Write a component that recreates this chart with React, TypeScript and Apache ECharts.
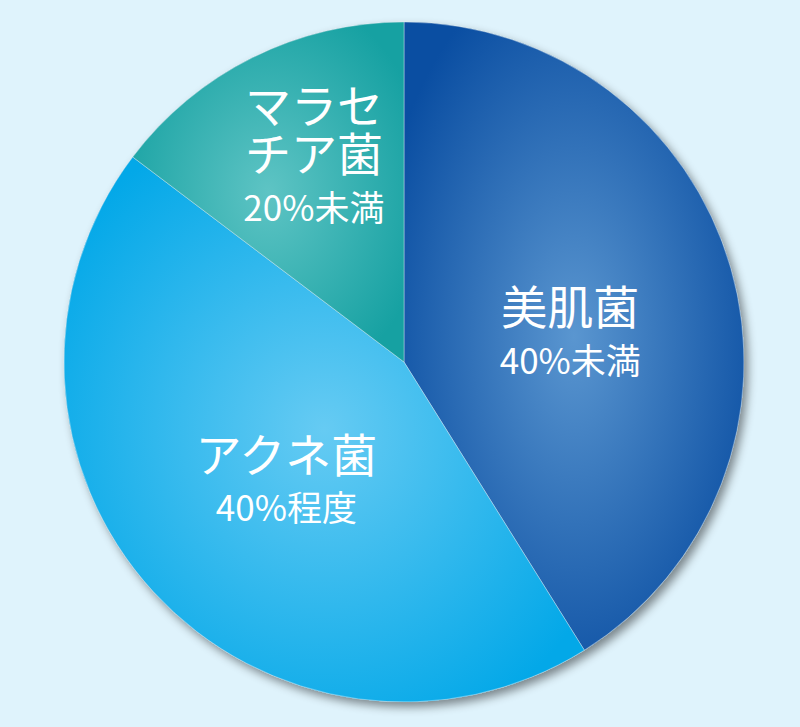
import React, { useEffect, useRef } from 'react';
import * as echarts from 'echarts';

const COLORS = {
  BG: '#dff3fc',
  TEXT: '#ffffff',
  // [centre, edge] of each slice's radial gradient
  SLICES: [
    ['#5a96d0', '#0a4ea2'],
    ['#66cbf3', '#03a8e8'],
    ['#5ec4c4', '#16a1a2'],
  ],
};

const NAMES = ['美肌菌', 'アクネ菌', 'マラセ\nチア菌'];
const SUBS = ['40%未満', '40%程度', '20%未満'];
const VALUES = [41.1, 44.2, 14.7];

// nudges from the default inside-label spot, per slice
const LABEL_SHIFT = [
  [0, 20],
  [10, 3],
  [-13, -50],
];

const W = 800;
const H = 727;
const FONT = '"Noto Sans CJK JP", sans-serif';

const App: React.FC = () => {
  const divEL = useRef(null);

  useEffect(() => {
    document.body.style.margin = '0';
    const instance = echarts.init(divEL.current as any, null, { renderer: 'svg' });

    const option: echarts.EChartsOption = {
      animation: false,
      backgroundColor: COLORS.BG,
      series: [
        {
          // shadow disc under the pie
          type: 'pie',
          silent: true,
          center: [404, 362],
          radius: 340,
          z: 1,
          label: { show: false },
          labelLine: { show: false },
          itemStyle: {
            color: '#8fb4c8',
            shadowBlur: 10,
            shadowOffsetX: 4,
            shadowOffsetY: 5,
            shadowColor: 'rgba(0,0,0,0.45)',
          },
          data: [{ value: 1, name: 'shadow' }],
        },
        {
          type: 'pie',
          center: [404, 362],
          radius: 340,
          startAngle: 90,
          clockwise: true,
          z: 2,
          itemStyle: {
            borderColor: 'rgba(255,255,255,0.35)',
            borderWidth: 1,
          },
          label: {
            show: true,
            position: 'inside',
            color: COLORS.TEXT,
            fontFamily: FONT,
            formatter: (p: any) => {
              const i = p.dataIndex;
              return NAMES[i]
                .split('\n')
                .map((s) => `{a|${s}}`)
                .join('\n') + `\n{b|${SUBS[i]}}`;
            },
            rich: {
              a: {
                fontSize: 46,
                lineHeight: 48,
                color: COLORS.TEXT,
                fontFamily: FONT,
              },
              b: {
                fontSize: 35,
                lineHeight: 60,
                color: COLORS.TEXT,
                fontFamily: FONT,
              },
            },
          },
          labelLine: { show: false },
          labelLayout: (params: any) => ({
            dx: LABEL_SHIFT[params.dataIndex][0],
            dy: LABEL_SHIFT[params.dataIndex][1],
          }),
          emphasis: { disabled: true },
          data: VALUES.map((v, i) => ({
            value: v,
            name: NAMES[i],
            itemStyle: {
              color: new echarts.graphic.RadialGradient(0.5, 0.5, 0.6, [
                { offset: 0, color: COLORS.SLICES[i][0] },
                { offset: 1, color: COLORS.SLICES[i][1] },
              ]),
            },
          })),
        },
      ],
    };

    instance.setOption(option);

    return () => {
      instance.dispose();
    };
  }, []);

  return <div ref={divEL} style={{ width: W, height: H }}></div>;
};

export default App;
